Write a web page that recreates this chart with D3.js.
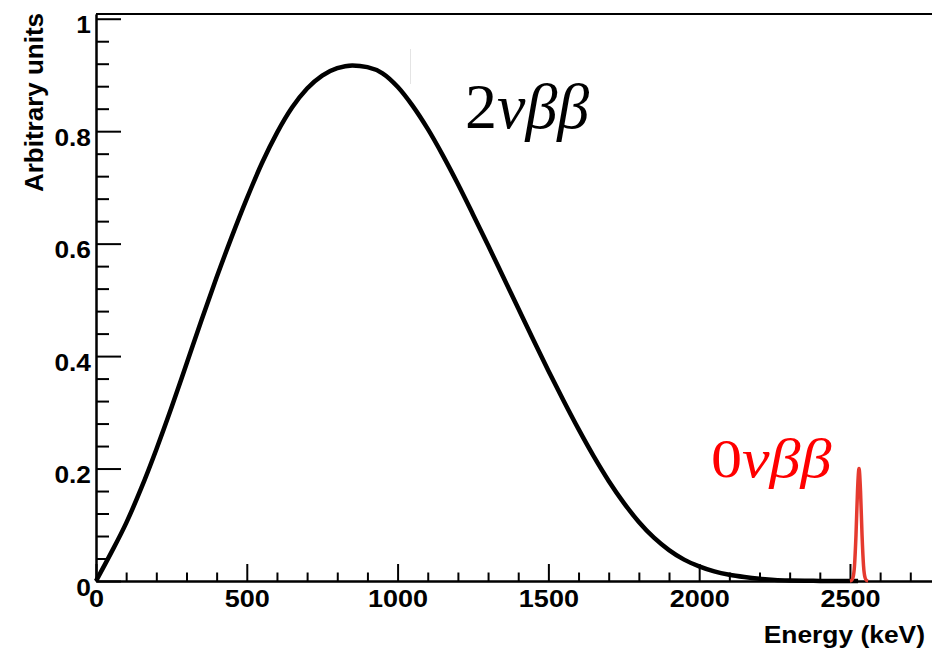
<!DOCTYPE html>
<html>
<head>
<meta charset="utf-8">
<script src="https://cdn.jsdelivr.net/npm/d3@7"></script>
<style>
  html, body { margin: 0; padding: 0; background: #fff; }
  svg { display: block; }
</style>
</head>
<body>
<svg id="chart" width="932" height="649"></svg>
<script>
// ---- data ----
const energy2nu = [0,50,100,150,200,250,300,350,400,450,500,550,600,650,700,750,800,850,900,950,
  1000,1050,1100,1150,1200,1250,1300,1350,1400,1450,1500,1550,1600,1650,1700,1750,1800,1850,1900,1950,
  2000,2050,2100,2150,2200,2250,2300,2350,2400,2450,2527];
const rate2nu = [0,0.05,0.103,0.165,0.234,0.308,0.386,0.464,0.54,0.612,0.68,0.743,0.797,0.842,0.876,0.899,0.912,0.917,0.914,0.903,
  0.879,0.845,0.804,0.757,0.706,0.652,0.597,0.541,0.485,0.429,0.374,0.321,0.27,0.222,0.178,0.139,0.105,0.077,0.055,0.038,
  0.026,0.017,0.011,0.007,0.004,0.002,0.001,0.0005,0.0002,0,0];
const energy0nu = [2500,2505,2510,2515,2520,2525,2530,2535,2540,2545,2550,2555,2560];
const rate0nu   = [0,0.001,0.006,0.027,0.082,0.16,0.2,0.16,0.082,0.027,0.006,0.001,0];
const xMajorTicks = [0,500,1000,1500,2000,2500];
const xMinorTicks = [100,200,300,400,600,700,800,900,1100,1200,1300,1400,1600,1700,1800,1900,2100,2200,2300,2400,2600,2700];
const yMajorTicks = [0,0.2,0.4,0.6,0.8,1];
const yMinorTicks = [0.04,0.08,0.12,0.16,0.24,0.28,0.32,0.36,0.44,0.48,0.52,0.56,0.64,0.68,0.72,0.76,0.84,0.88,0.92,0.96];
const xTitle = "Energy (keV)";
const yTitle = "Arbitrary units";

// ---- drawing ----
const svg = d3.select("#chart");
const x = d3.scaleLinear().domain([0, 2772]).range([96, 932]);
const y = d3.scaleLinear().domain([0, 1.0084]).range([581, 14]);
const sans = "'Liberation Sans', Arial, Helvetica, sans-serif";
const serif = "'Liberation Serif', 'Times New Roman', serif";

// frame top
svg.append("line").attr("x1", x(0)).attr("x2", 932).attr("y1", y(1.0084)).attr("y2", y(1.0084))
  .attr("stroke", "#000").attr("stroke-width", 2);

// x axis
const gxMinor = svg.append("g").attr("transform", `translate(0,${y(0)})`)
  .call(d3.axisBottom(x).tickValues(xMinorTicks).tickSize(-8.5).tickSizeOuter(0).tickFormat(""));
const gx = svg.append("g").attr("transform", `translate(0,${y(0)})`)
  .call(d3.axisBottom(x).tickValues(xMajorTicks).tickSize(-17).tickSizeOuter(0).tickPadding(0).tickFormat(d3.format("d")));
svg.selectAll("g path.domain, g line").attr("stroke", "#000").attr("stroke-width", 2);
gx.selectAll("text").attr("dy", null).attr("y", 26.5)
  .attr("transform", "scale(1.15,1)")
  .style("font-family", sans).style("font-weight", "bold").style("font-size", "23.5px").attr("fill", "#000");

// y axis
const gyMinor = svg.append("g").attr("transform", `translate(${x(0)},0)`)
  .call(d3.axisLeft(y).tickValues(yMinorTicks).tickSize(-13).tickSizeOuter(0).tickFormat(""));
const gy = svg.append("g").attr("transform", `translate(${x(0)},0)`)
  .call(d3.axisLeft(y).tickValues(yMajorTicks).tickSize(-25).tickSizeOuter(0).tickPadding(4.5).tickFormat(d => d3.format("~g")(d)));
svg.selectAll("g path.domain, g line").attr("stroke", "#000").attr("stroke-width", 2);
gy.selectAll("text").attr("dy", null).attr("y", 14)
  .attr("transform", "scale(1.12,1)")
  .style("font-family", sans).style("font-weight", "bold").style("font-size", "23.5px").attr("fill", "#000");

// axis titles
svg.append("text").attr("transform", "translate(925,643) scale(1.1,1)")
  .attr("text-anchor", "end").style("font-family", sans).style("font-weight", "bold").style("font-size", "24px")
  .text(xTitle);
svg.append("text").attr("transform", "translate(42.5,102.5) rotate(-90)")
  .attr("text-anchor", "middle").style("font-family", sans).style("font-weight", "bold").style("font-size", "26px")
  .text(yTitle);

// curves
const line = d3.line().x(d => x(d[0])).y(d => y(d[1])).curve(d3.curveMonotoneX);
svg.append("path").datum(d3.zip(energy2nu, rate2nu)).attr("d", line)
  .attr("fill", "none").attr("stroke", "#000").attr("stroke-width", 4.5).attr("stroke-linejoin", "round");
svg.append("path").datum(d3.zip(energy0nu, rate0nu)).attr("d", line)
  .attr("fill", "none").attr("stroke", "#e53a2f").attr("stroke-width", 3.5).attr("stroke-linejoin", "round");

// faint editing artifact line
svg.append("line").attr("x1", 410.5).attr("x2", 410.5).attr("y1", 49).attr("y2", 84)
  .attr("stroke", "#e4e4e4").attr("stroke-width", 1);

// labels
const t2 = svg.append("text").attr("x", 465).attr("y", 128).style("font-family", serif).style("font-size", "64px").attr("fill", "#000");
t2.append("tspan").text("2");
t2.append("tspan").style("font-style", "italic").text("νββ");
const t0 = svg.append("text").attr("transform", "translate(711,477) scale(1.15,1)").style("font-family", serif).style("font-size", "54px").attr("fill", "#ff0000");
t0.append("tspan").text("0");
t0.append("tspan").style("font-style", "italic").text("νββ");
</script>
</body>
</html>
